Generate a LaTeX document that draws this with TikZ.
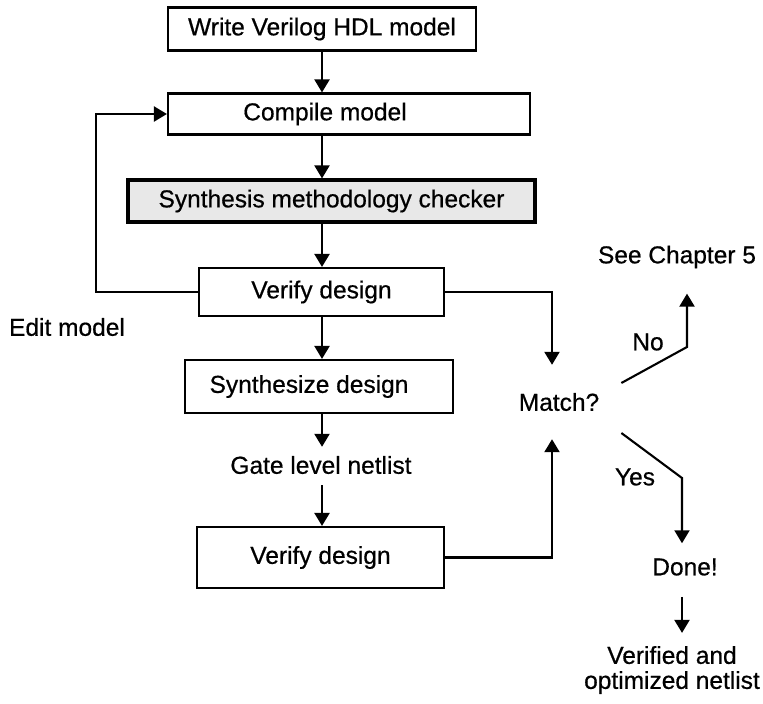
\documentclass[tikz,border=0pt]{standalone}
\usepackage{fontspec}
\setmainfont[UprightFeatures={FakeBold=0.6}]{Liberation Sans}
\usetikzlibrary{arrows.meta,calc}
\begin{document}
\begin{tikzpicture}[x=1pt,y=-1pt,
  every node/.style={font=\fontsize{24.5}{25}\selectfont},
  box/.style={draw, line width=2.1pt, inner sep=0pt},
  lbl/.style={inner sep=0pt},
  arr/.style={line width=2.1pt, -{Triangle[length=13pt,width=15pt]}}]
\useasboundingbox (0,0) rectangle (763,704);

% main flow boxes
\node[box, minimum width=308, minimum height=43] (write) at (322,29) {Write Verilog HDL model};
\node[box, minimum width=362, minimum height=41] (compile) at (349,114) {};
\node[lbl] (compiletext) at (325,114) {Compile model};
\node[box, line width=3.2pt, fill=black!9, minimum width=407, minimum height=42] (checker) at (331.5,201) {Synthesis methodology checker};
\node[box, minimum width=245, minimum height=48] (verify1) at (321.5,292) {Verify design};
\node[box, minimum width=268, minimum height=53] (synth) at (319,386.5) {};
\node[lbl] (synthtext) at (309,386.5) {Synthesize design};
\node[lbl] (gate) at (321,465) {Gate level netlist};
\node[box, minimum width=247, minimum height=61] (verify2) at (320.5,557.5) {Verify design};

% free labels
\node[lbl] (edit) at (67,327) {Edit model};
\node[lbl] (match) at (559,402) {Match?};
\node[lbl] (chap) at (677,257) {See Chapter 5};
\node[lbl] (no) at (648,342) {No};
\node[lbl] (yes) at (635,477) {Yes};
\node[lbl] (done) at (685,567) {Done!};
\node[lbl, align=center] (verified) at (672,670) {Verified and\\optimized netlist};

% vertical chain
\coordinate (col) at (322,0);
\draw[arr] (write.south -| col) -- (compile.north -| col);
\draw[arr] (compile.south -| col) -- (checker.north -| col);
\draw[arr] (checker.south -| col) -- (verify1.north -| col);
\draw[arr] (verify1.south -| col) -- (synth.north -| col);
\draw[arr, shorten >=9pt] (synth.south -| col) -- (gate.north -| col);
\draw[arr, shorten <=11pt] (gate.south -| col) -- (verify2.north -| col);

% edit loop
\draw[arr] (verify1.west) -- ++(-102,0) |- (compile.west);

% comparison of both verifications
\draw[arr, shorten >=28pt] (verify1.east) -| ([xshift=-7pt]match.north);
\draw[arr, shorten >=28pt] (verify2.east) -| ([xshift=-7pt]match.south);

% outcomes
\coordinate (nostart) at ($(match.east)+(22,-19)$);
\coordinate (nobend) at (687,347);
\draw[arr, shorten >=25pt] (nostart) -- (nobend) -- (nobend |- chap.south);
\coordinate (yesstart) at ($(match.east)+(22,31)$);
\coordinate (yesbend) at (682,478);
\draw[arr, shorten >=15pt] (yesstart) -- (yesbend) -- (yesbend |- done.north);
\draw[arr, shorten <=21pt, shorten >=13pt] (yesbend |- done.south) -- (yesbend |- verified.north);
\end{tikzpicture}
\end{document}
